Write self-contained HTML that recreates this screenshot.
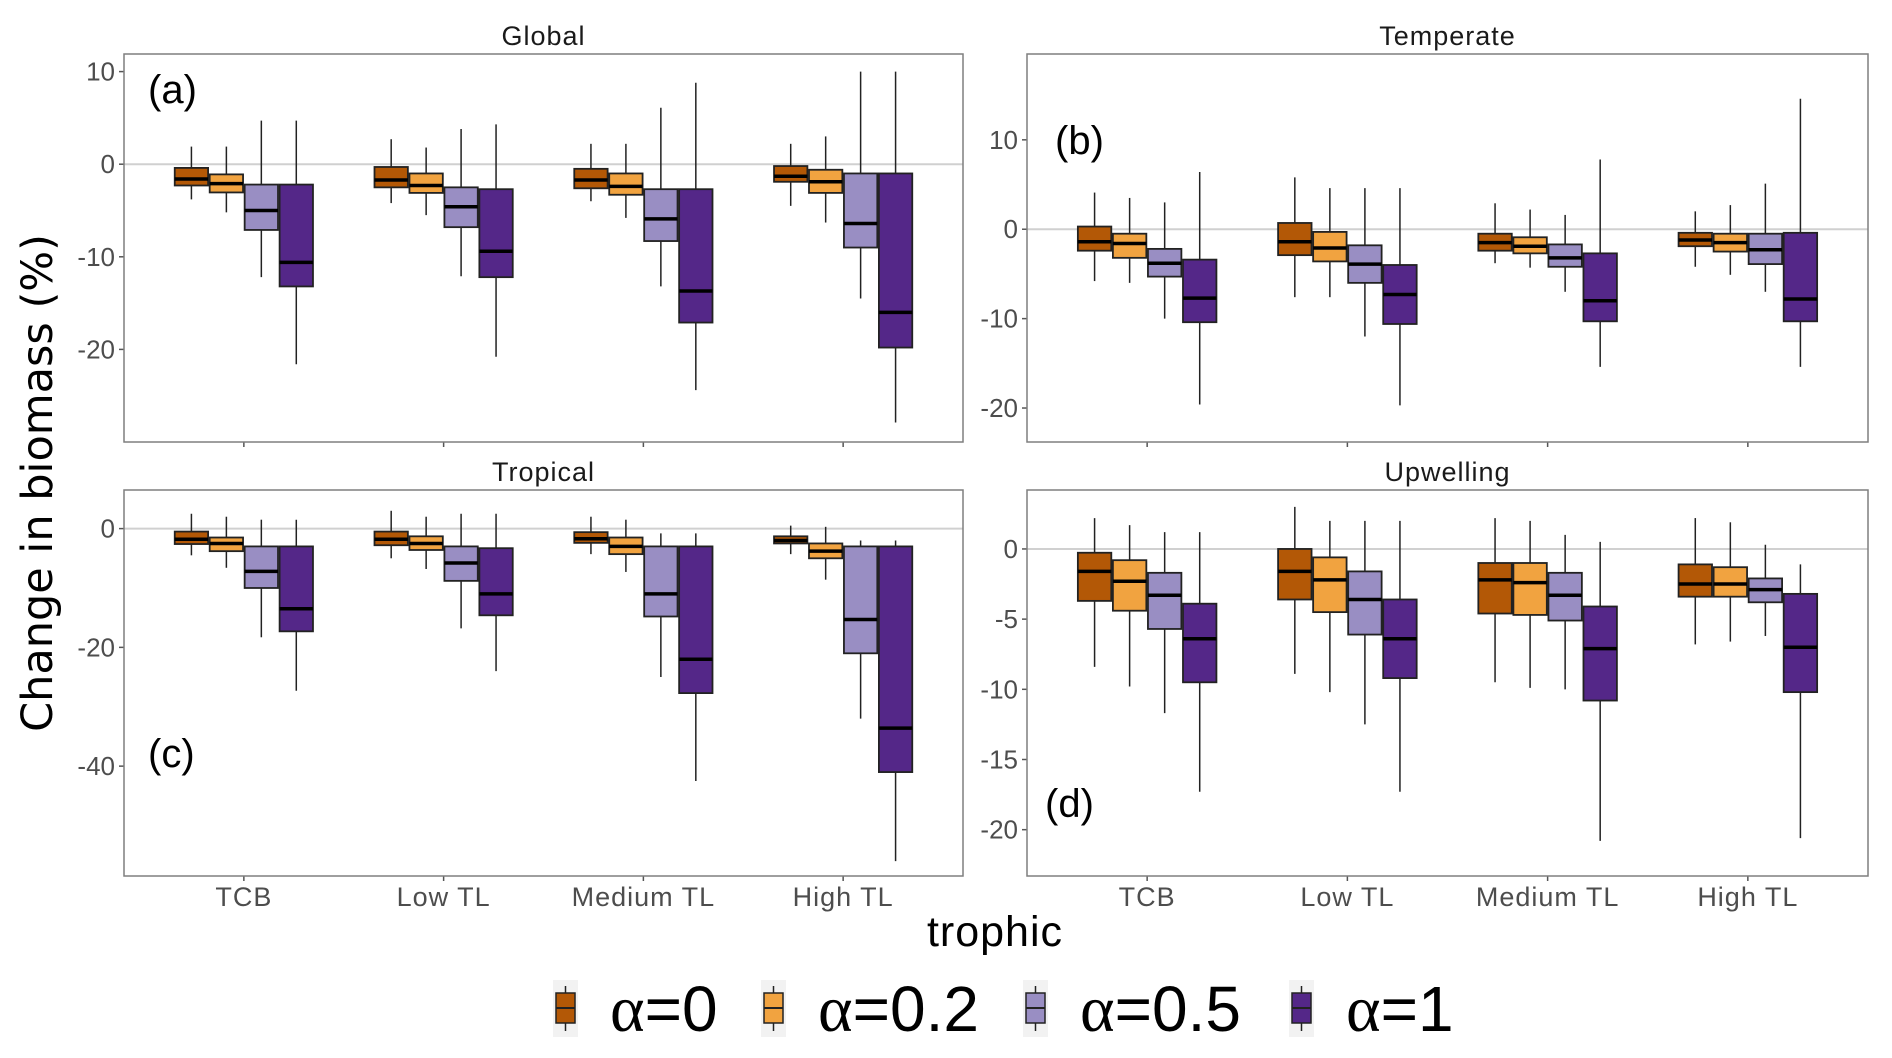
<!DOCTYPE html>
<html><head><meta charset="utf-8"><style>
body{margin:0;background:#fff}
svg{display:block;font-family:"Liberation Sans","DejaVu Sans",sans-serif}
</style></head><body>
<svg id="chart" width="1892" height="1058" viewBox="0 0 1892 1058">
<rect width="1892" height="1058" fill="#fff"/>
</svg>
<script>
const categories = ["TCB","Low TL","Medium TL","High TL"];
const seriesNames = ["0","0.2","0.5","1"];
const colors = ["#b35806","#f1a340","#998ec3","#542788"];
// [lowWhisker, q1, median, q3, highWhisker] per category per series
const globalData = [
 [[-3.8,-2.3,-1.6,-0.4,1.9],[-5.2,-3.05,-2.1,-1.1,1.9],[-12.2,-7.1,-5.0,-2.2,4.7],[-21.6,-13.2,-10.6,-2.2,4.7]],
 [[-4.2,-2.5,-1.7,-0.3,2.7],[-5.5,-3.1,-2.3,-1.0,1.8],[-12.1,-6.8,-4.6,-2.5,3.8],[-20.8,-12.2,-9.4,-2.7,4.3]],
 [[-4.0,-2.6,-1.7,-0.5,2.2],[-5.8,-3.3,-2.4,-1.0,2.2],[-13.2,-8.3,-5.9,-2.7,6.1],[-24.4,-17.1,-13.7,-2.7,8.8]],
 [[-4.5,-1.9,-1.3,-0.2,2.2],[-6.3,-3.1,-1.9,-0.6,3.0],[-14.5,-9.0,-6.4,-1.0,10],[-27.9,-19.8,-16.0,-1.0,10]]
];
const temperateData = [
 [[-5.8,-2.4,-1.4,0.3,4.1],[-6.0,-3.2,-1.6,-0.5,3.5],[-10,-5.3,-3.8,-2.2,3.0],[-19.6,-10.4,-7.7,-3.4,6.4]],
 [[-7.6,-2.9,-1.4,0.7,5.8],[-7.6,-3.6,-2.1,-0.3,4.6],[-12,-6.0,-3.9,-1.8,4.6],[-19.7,-10.6,-7.3,-4.0,4.6]],
 [[-3.8,-2.4,-1.5,-0.5,2.9],[-4.3,-2.7,-1.9,-0.9,2.2],[-7.0,-4.2,-3.2,-1.7,1.6],[-15.4,-10.3,-8.0,-2.7,7.8]],
 [[-4.2,-1.9,-1.2,-0.4,2.0],[-5.1,-2.5,-1.5,-0.5,2.7],[-7.0,-3.9,-2.3,-0.5,5.1],[-15.4,-10.3,-7.8,-0.4,14.6]]
];
const tropicalData = [
 [[-4.5,-2.6,-1.8,-0.5,2.5],[-6.6,-3.8,-2.5,-1.5,2],[-18.3,-10,-7.2,-3,1.5],[-27.3,-17.3,-13.5,-3,1.5]],
 [[-5,-2.8,-1.8,-0.5,3],[-6.8,-3.6,-2.5,-1.3,2],[-16.8,-8.8,-5.8,-3,2.5],[-24,-14.6,-11,-3.3,2.5]],
 [[-4.3,-2.4,-1.7,-0.6,2],[-7.3,-4.3,-3,-1.5,1.5],[-25,-14.8,-11,-3,-0.8],[-42.5,-27.7,-22,-3,-0.8]],
 [[-4.3,-2.5,-2,-1.3,0.5],[-8.6,-5,-3.8,-2.5,0.3],[-32,-21,-15.3,-3,-2],[-56,-41,-33.6,-3,-2]]
];
const upwellingData = [
 [[-8.4,-3.7,-1.6,-0.27,2.2],[-9.8,-4.4,-2.3,-0.8,1.7],[-11.7,-5.7,-3.3,-1.7,1.2],[-17.3,-9.5,-6.4,-3.9,1.2]],
 [[-8.9,-3.6,-1.6,0,3.0],[-10.2,-4.5,-2.2,-0.6,2.0],[-12.5,-6.1,-3.6,-1.6,2.0],[-17.3,-9.2,-6.4,-3.6,2.0]],
 [[-9.5,-4.6,-2.2,-1.0,2.2],[-9.9,-4.7,-2.4,-1.0,2.0],[-10.0,-5.1,-3.3,-1.7,1.0],[-20.8,-10.8,-7.1,-4.1,0.5]],
 [[-6.8,-3.4,-2.5,-1.1,2.2],[-6.6,-3.4,-2.5,-1.3,1.9],[-6.2,-3.8,-2.9,-2.1,0.3],[-20.6,-10.2,-7.0,-3.2,-1.1]]
];
const globalTicks = [10,0,-10,-20];
const temperateTicks = [10,0,-10,-20];
const tropicalTicks = [0,-20,-40];
const upwellingTicks = [0,-5,-10,-15,-20];

const NS="http://www.w3.org/2000/svg";
const svg=document.getElementById('chart');
function mk(tag,attrs,parent){const e=document.createElementNS(NS,tag);for(const k in attrs)e.setAttribute(k,attrs[k]);(parent||svg).appendChild(e);return e;}

const panels=[
 {key:"global",title:"Global",label:"(a)",data:globalData,ticks:globalTicks,x0:124,x1:963,y0:54,y1:442,vmax:11.9,vmin:-30.0,lx:148,ly:103},
 {key:"temperate",title:"Temperate",label:"(b)",data:temperateData,ticks:temperateTicks,x0:1027,x1:1868,y0:54,y1:442,vmax:19.6,vmin:-23.8,lx:1055,ly:154},
 {key:"tropical",title:"Tropical",label:"(c)",data:tropicalData,ticks:tropicalTicks,x0:124,x1:963,y0:490,y1:876,vmax:6.5,vmin:-58.5,lx:148,ly:767},
 {key:"upwelling",title:"Upwelling",label:"(d)",data:upwellingData,ticks:upwellingTicks,x0:1027,x1:1868,y0:490,y1:876,vmax:4.2,vmin:-23.3,lx:1045,ly:817}
];
panels.forEach((p,pi)=>{
 const g=mk('g',{});
 
 
 const y=v=>p.y0+(p.vmax-v)/(p.vmax-p.vmin)*(p.y1-p.y0);
 const W=p.x1-p.x0;
 const xc=i=>p.x0+(i+0.6)/4.2*W;
 const slot=W/4.2*0.7/4;
 const t=mk('text',{x:(p.x0+p.x1)/2,y:p.y0-9,'text-anchor':'middle','font-size':27,fill:'#1a1a1a','letter-spacing':'1'},g);
 t.textContent=p.title;
 
 
 mk('line',{x1:p.x0,x2:p.x1,y1:y(0),y2:y(0),stroke:'#d0d0d0','stroke-width':2},g);
 p.ticks.forEach(v=>{
  mk('line',{x1:p.x0-5,x2:p.x0,y1:y(v),y2:y(v),stroke:'#555','stroke-width':1.5},g);
  const tl=mk('text',{x:p.x0-9,y:y(v)+9,'text-anchor':'end','font-size':26,fill:'#4d4d4d'},g);
  tl.textContent=v;
  
  
 });
 categories.forEach((c,ci)=>{
  mk('line',{x1:xc(ci),x2:xc(ci),y1:p.y1,y2:p.y1+5,stroke:'#555','stroke-width':1.5},g);
  if(pi>=2){
   const xl=mk('text',{x:xc(ci),y:p.y1+30,'text-anchor':'middle','font-size':27,fill:'#4d4d4d','letter-spacing':'1'},g);
   xl.textContent=c;
   
   
  }
  p.data[ci].forEach((d,si)=>{
   const bx=xc(ci)-2*slot+si*slot;
   const cx=bx+slot/2;
   const bg=mk('g',{},g);
   
   
   mk('line',{x1:cx,x2:cx,y1:y(d[4]),y2:y(d[0]),stroke:'#222','stroke-width':1.5},bg);
   mk('rect',{x:bx+0.8,y:y(d[3]),width:slot-1.6,height:Math.max(1,y(d[1])-y(d[3])),fill:colors[si],stroke:'#222','stroke-width':1.8},bg);
   mk('line',{x1:bx+0.8,x2:bx+slot-0.8,y1:y(d[2]),y2:y(d[2]),stroke:'#000','stroke-width':3.5},bg);
  });
 });
 const fr=mk('rect',{x:p.x0,y:p.y0,width:W,height:p.y1-p.y0,fill:'none',stroke:'#7f7f7f','stroke-width':1.5},g);
 
 
 const lb=mk('text',{x:p.lx,y:p.ly,'font-size':40,fill:'#000'},g);
 lb.textContent=p.label;
 
 
});
const yt=mk('text',{x:0,y:0,transform:'translate(52,483) rotate(-90)','text-anchor':'middle','font-size':43,fill:'#000','font-family':'DejaVu Sans, sans-serif'});
yt.textContent="Change in biomass (%)";


const xt=mk('text',{x:995,y:946,'text-anchor':'middle','font-size':43,fill:'#000','letter-spacing':'1'});
xt.textContent="trophic";


const legKeyX=[553,761,1023,1289];
seriesNames.forEach((s,i)=>{
 const lg=mk('g',{});
 
 
 const kx=legKeyX[i];
 mk('rect',{x:kx,y:980,width:25,height:57,fill:'#f2f2f2'},lg);
 mk('line',{x1:kx+12.5,x2:kx+12.5,y1:986,y2:1031,stroke:'#222','stroke-width':1.5},lg);
 mk('rect',{x:kx+3,y:993,width:19,height:30,fill:colors[i],stroke:'#222','stroke-width':1.5},lg);
 mk('line',{x1:kx+3,x2:kx+22,y1:1008,y2:1008,stroke:'#222','stroke-width':2},lg);
 const tx=mk('text',{x:kx+57,y:1031,'font-size':64,fill:'#000'},lg);
 const a=mk('tspan',{'font-family':'Liberation Serif, serif','font-size':66},tx);
 a.textContent='α';
 const r=mk('tspan',{},tx);
 r.textContent='='+s;
 
 
});
</script>
</body></html>
